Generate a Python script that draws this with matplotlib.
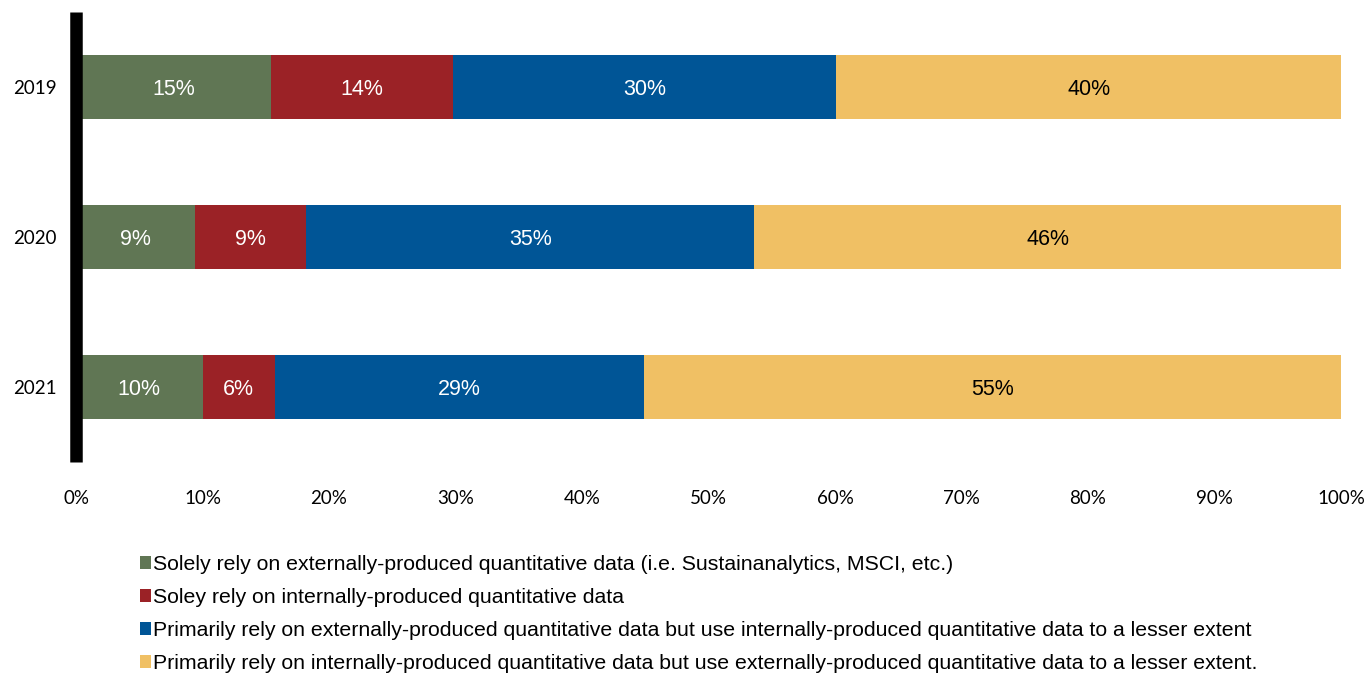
import matplotlib.pyplot as plt
from matplotlib.patches import Patch
import numpy as np

years = ['2019', '2020', '2021']

solely_external = [15.4, 9.4, 10.0]
solely_internal = [14.4, 8.8, 5.7]
primarily_external = [30.3, 35.4, 29.2]
primarily_internal = [39.9, 46.4, 55.1]

series_labels = [
    'Solely rely on externally-produced quantitative data (i.e. Sustainanalytics, MSCI, etc.)',
    'Soley rely on internally-produced quantitative data',
    'Primarily rely on externally-produced quantitative data but use internally-produced quantitative data to a lesser extent',
    'Primarily rely on internally-produced quantitative data but use externally-produced quantitative data to a lesser extent.',
]
colors = ['#607654', '#9B2226', '#005596', '#F0C064']
text_colors = ['white', 'white', 'white', 'black']

series = [solely_external, solely_internal, primarily_external, primarily_internal]

fig = plt.figure(figsize=(13.67, 6.75), dpi=100)
ax = fig.add_axes([76 / 1367, 1 - 462 / 675, (1341 - 76) / 1367, 450 / 675])

y = np.arange(len(years))
left = np.zeros(len(years))
for vals, col, tcol in zip(series, colors, text_colors):
    vals = np.array(vals)
    ax.barh(y, vals, left=left, height=0.433, color=col, edgecolor='none', zorder=2)
    for yi, l, v in zip(y, left, vals):
        ax.text(l + v / 2, yi, f'{v:.0f}%', ha='center', va='center_baseline',
                color=tcol, fontsize=15.5, family='Liberation Sans', zorder=3)
    left += vals

ax.set_xlim(0, 100)
ax.set_ylim(2.5, -0.5)
ax.set_yticks(y)
ax.set_yticklabels(years, fontsize=13.5, family='Lato')
ax.set_xticks(np.arange(0, 101, 10))
ax.set_xticklabels([f'{t}%' for t in range(0, 101, 10)], fontsize=13.5, family='Lato')
ax.tick_params(length=0)
ax.tick_params(axis='y', pad=14)
ax.tick_params(axis='x', pad=20)

for s in ['top', 'right', 'bottom']:
    ax.spines[s].set_visible(False)
ax.spines['left'].set_linewidth(9)
ax.spines['left'].set_color('black')
ax.spines['left'].set_capstyle('butt')
ax.spines['left'].set_zorder(4)

handles = [Patch(facecolor=c, edgecolor='none') for c in colors]
fig.legend(handles, series_labels, loc='upper left', bbox_to_anchor=(129 / 1367, 1 - 544 / 675),
           frameon=False, borderpad=0, handlelength=0.55, handleheight=0.55, handletextpad=0.1,
           labelspacing=0.66, prop={'family': 'Liberation Sans', 'size': 15.3})

plt.savefig('out.png', dpi=100)
